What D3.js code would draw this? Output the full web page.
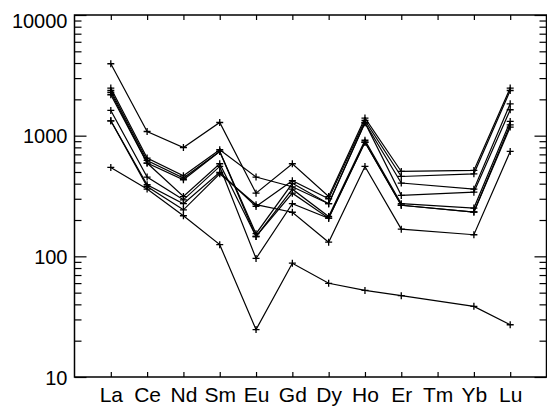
<!DOCTYPE html>
<html>
  <head>
    <script src="https://d3js.org/d3.v7.min.js"></script>
    <style>
      body { margin: 0; background: #fff; }
      text { font-family: "Liberation Sans", Arial, sans-serif; }
    </style>
  </head>
  <body>
    <script>

      const width = 547;
      const height = 406;

      const margin = {top: 15, right: 0.5, bottom: 29, left: 74.5};

      // REE categories (Tm has no values)
      const elements = ["La", "Ce", "Nd", "Sm", "Eu", "Gd", "Dy", "Ho", "Er", "Tm", "Yb", "Lu"];
      const measured = ["La", "Ce", "Nd", "Sm", "Eu", "Gd", "Dy", "Ho", "Er", "Yb", "Lu"];

      const s1 = [3944, 1083, 798, 1286, 334, 585, 313, 1400, 505, 515, 2479];
      const s2 = [2479, 652, 465, 764, 454, 377, 273, 1279, 405, 360, 1837];
      const s3 = [2368, 623, 445, 740, 154, 403, 273, 1279, 320, 340, 1640];
      const s4 = [2280, 593, 431, 740, 146, 360, 214, 916, 273, 251, 1312];
      const s5 = [2183, 593, 313, 585, 146, 334, 207, 882, 265, 233, 1231];
      const s6 = [1618, 454, 294, 556, 96, 273, 207, 882, 265, 233, 1178];
      const s7 = [1328, 392, 273, 496, 259, 423, 300, 1336, 459, 483, 2368];
      const s8 = [1328, 379, 243, 483, 268, 232, 131, 556, 168, 151, 740];
      const s9 = [545, 361, 217, 125, 24.7, 87.7, 59.8, 52.2, 47.2, 38.5, 27.1];

      const series = [s1, s2, s3, s4, s5, s6, s7, s8, s9];

      const majorTicks = [10, 100, 1000, 10000];

      const svg = d3.select("body")
        .append("svg")
        .attr("width", width)
        .attr("height", height);

      const x = d3.scalePoint()
        .domain(elements)
        .range([margin.left, width - margin.right])
        .padding(1);

      const y = d3.scaleLog()
        .domain([10, 10000])
        .range([height - margin.bottom, margin.top]);

      const minorTicks = y.ticks().filter(d => majorTicks.indexOf(d) < 0);

      const plotW = width - margin.left - margin.right;
      const plotH = height - margin.top - margin.bottom;

      // left axis: minor then major ticks, pointing inward
      svg.append("g")
        .attr("transform", `translate(${margin.left},0)`)
        .call(d3.axisLeft(y).tickValues(minorTicks).tickSize(-7).tickFormat(""))
        .call(g => g.select(".domain").remove());

      svg.append("g")
        .attr("transform", `translate(${margin.left},0)`)
        .call(d3.axisLeft(y).tickValues(majorTicks).tickSize(-12).tickPadding(7).tickFormat(d3.format("d")))
        .call(g => g.select(".domain").remove())
        .call(g => g.selectAll("text")
          .attr("font-size", 20)
          .attr("fill", "#000")
          .attr("dy", d => d == 10000 ? "0.62em" : "0.36em"));

      // right axis, no labels
      svg.append("g")
        .attr("transform", `translate(${width - margin.right},0)`)
        .call(d3.axisRight(y).tickValues(minorTicks).tickSize(-7).tickFormat(""))
        .call(g => g.select(".domain").remove());

      svg.append("g")
        .attr("transform", `translate(${width - margin.right},0)`)
        .call(d3.axisRight(y).tickValues(majorTicks).tickSize(-12).tickFormat(""))
        .call(g => g.select(".domain").remove());

      // bottom axis with element names
      svg.append("g")
        .attr("transform", `translate(0,${height - margin.bottom})`)
        .call(d3.axisBottom(x).tickSize(-5).tickPadding(10))
        .call(g => g.select(".domain").remove())
        .call(g => g.selectAll("text").attr("font-size", 21).attr("fill", "#000"));

      svg.append("g")
        .attr("transform", `translate(0,${margin.top})`)
        .call(d3.axisTop(x).tickSize(-5).tickFormat(""))
        .call(g => g.select(".domain").remove());

      svg.selectAll(".tick line").attr("stroke", "#000").attr("stroke-width", 1.2);

      // frame
      svg.append("rect")
        .attr("x", margin.left)
        .attr("y", margin.top)
        .attr("width", plotW)
        .attr("height", plotH)
        .attr("fill", "none")
        .attr("stroke", "#000")
        .attr("stroke-width", 1.5);

      const line = d3.line()
        .x((d, i) => x(measured[i]))
        .y(d => y(d));

      svg.selectAll("path.ree")
        .data(series)
        .join("path")
        .attr("class", "ree")
        .attr("d", line)
        .attr("fill", "none")
        .attr("stroke", "#000")
        .attr("stroke-width", 1.2);

      const pts = series.flatMap(s => s.map((v, i) => ({el: measured[i], v: v})));
      const r = 3.5;

      svg.selectAll("path.mark")
        .data(pts)
        .join("path")
        .attr("class", "mark")
        .attr("d", d => {
          const cx = x(d.el), cy = y(d.v);
          return `M${cx - r},${cy}H${cx + r}M${cx},${cy - r}V${cy + r}`;
        })
        .attr("stroke", "#000")
        .attr("stroke-width", 1.3);

    </script>
  </body>
</html>
